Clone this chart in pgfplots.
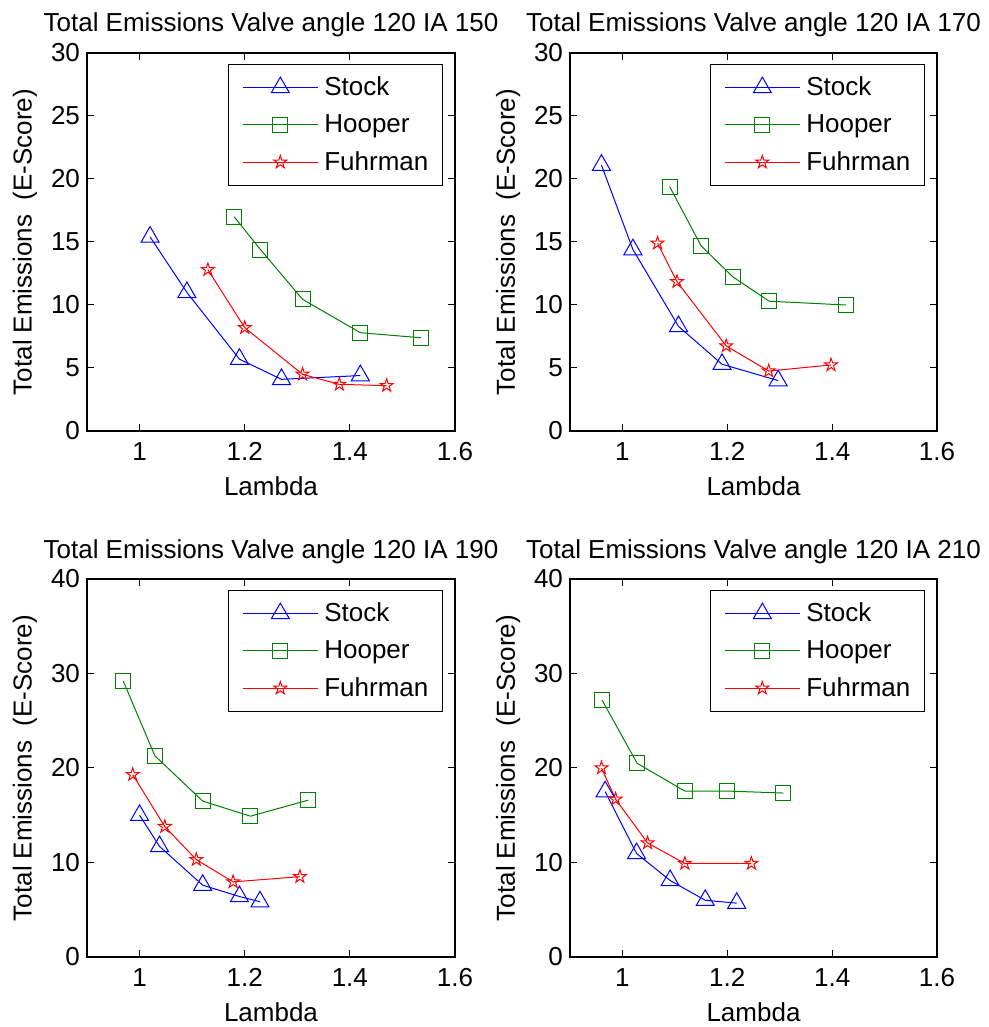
\documentclass[border=0pt]{standalone}
\usepackage{fontspec}
\setmainfont{Liberation Sans}
\usepackage{pgfplots}
\pgfplotsset{compat=1.18}
\usetikzlibrary{plotmarks}

% MATLAB-style pentagram outline
\pgfdeclareplotmark{pentagram}{%
  \pgfpathmoveto{\pgfpointpolar{90}{\pgfplotmarksize}}%
  \pgfpathlineto{\pgfpointpolar{126}{0.382\pgfplotmarksize}}%
  \pgfpathlineto{\pgfpointpolar{162}{\pgfplotmarksize}}%
  \pgfpathlineto{\pgfpointpolar{198}{0.382\pgfplotmarksize}}%
  \pgfpathlineto{\pgfpointpolar{234}{\pgfplotmarksize}}%
  \pgfpathlineto{\pgfpointpolar{270}{0.382\pgfplotmarksize}}%
  \pgfpathlineto{\pgfpointpolar{306}{\pgfplotmarksize}}%
  \pgfpathlineto{\pgfpointpolar{342}{0.382\pgfplotmarksize}}%
  \pgfpathlineto{\pgfpointpolar{18}{\pgfplotmarksize}}%
  \pgfpathlineto{\pgfpointpolar{54}{0.382\pgfplotmarksize}}%
  \pgfpathclose
  \pgfusepathqstroke
}

\definecolor{mblue}{RGB}{0,0,255}
\definecolor{mgreen}{RGB}{0,128,0}
\definecolor{mred}{RGB}{255,0,0}

\pgfplotsset{
  emis/.style={
    scale only axis, anchor=south west,
    width=184pt, height=189pt,
    xmin=0.9, xmax=1.6, xtick={1,1.2,1.4,1.6},
    tick align=inside, tick pos=both, major tick length=3.5pt,
    tick style={black, line width=0.5pt},
    axis line style={line width=0.6pt},
    font=\fontsize{13}{15.6}\selectfont,
    /pgf/number format/assume math mode=true,
    xlabel={Lambda},
    ylabel={Total Emissions\ \ (E-Score)},
    title style={at={(axis description cs:0.5,1)}, anchor=base, yshift=4.5pt},
    xlabel style={at={(axis description cs:0.5,0)}, anchor=base, yshift=-32.5pt},
    ylabel style={at={(axis description cs:-0.1685,0.5)}, anchor=center},
    xticklabel style={yshift=-2.3pt},
    legend style={at={(axis description cs:1,1)}, anchor=north east,
      xshift=-6pt, yshift=-5.5pt, draw=black, line width=0.6pt,
      inner xsep=7pt, inner ysep=6pt, row sep=8pt, column sep=3pt,
      nodes={inner sep=0pt}, cells={anchor=west},
      font=\fontsize{13}{15.6}\selectfont},
    legend image code/.code={%
      \draw[mark repeat=2,mark phase=2]
        plot coordinates {(0pt,0pt) (18.75pt,0pt) (37.5pt,0pt)};},
  },
  stock/.style={mblue, line width=0.5pt, mark=triangle, mark size=5.2pt,
    mark options={solid}},
  hooper/.style={mgreen, line width=0.5pt, mark=square, mark size=3.75pt,
    mark options={solid}},
  fuhr/.style={mred, line width=0.5pt, mark=pentagram, mark size=3.4pt,
    mark options={solid}},
}

\begin{document}
\begin{tikzpicture}
\useasboundingbox (0,0) rectangle (494.5pt,513.5pt);

% IA 150
\begin{axis}[emis, at={(43.5pt,298pt)},
  ymin=0, ymax=30, ytick={0,5,...,30},
  title={Total Emissions Valve angle 120 IA 150}]
\addplot[stock] coordinates {(1.02,15.4) (1.09,11.0) (1.19,5.7) (1.27,4.1) (1.42,4.4)};
\addplot[hooper] coordinates {(1.18,17.0) (1.23,14.4) (1.31,10.45) (1.42,7.8) (1.535,7.4)};
\addplot[fuhr] coordinates {(1.13,12.8) (1.20,8.2) (1.31,4.5) (1.38,3.7) (1.47,3.6)};
\legend{Stock,Hooper,Fuhrman}
\end{axis}

% IA 170
\begin{axis}[emis, at={(285pt,298pt)}, width=183.5pt,
  ymin=0, ymax=30, ytick={0,5,...,30},
  title={Total Emissions Valve angle 120 IA 170}]
\addplot[stock] coordinates {(0.96,21.1) (1.02,14.4) (1.107,8.3) (1.19,5.3) (1.297,4.0)};
\addplot[hooper] coordinates {(1.09,19.4) (1.15,14.7) (1.21,12.25) (1.28,10.3) (1.426,10.0)};
\addplot[fuhr] coordinates {(1.067,14.9) (1.104,11.85) (1.198,6.75) (1.279,4.76) (1.398,5.24)};
\legend{Stock,Hooper,Fuhrman}
\end{axis}

% IA 190
\begin{axis}[emis, at={(43.5pt,35pt)},
  ymin=0, ymax=40, ytick={0,10,...,40},
  title={Total Emissions Valve angle 120 IA 190}]
\addplot[stock] coordinates {(1.0,15.0) (1.038,11.7) (1.12,7.6) (1.19,6.4) (1.229,5.85)};
\addplot[hooper] coordinates {(0.969,29.2) (1.029,21.3) (1.12,16.5) (1.211,14.9) (1.321,16.6)};
\addplot[fuhr] coordinates {(0.987,19.3) (1.048,13.8) (1.108,10.3) (1.178,7.95) (1.305,8.5)};
\legend{Stock,Hooper,Fuhrman}
\end{axis}

% IA 210
\begin{axis}[emis, at={(285pt,35pt)}, width=183.5pt,
  ymin=0, ymax=40, ytick={0,10,...,40},
  title={Total Emissions Valve angle 120 IA 210}]
\addplot[stock] coordinates {(0.967,17.5) (1.027,10.95) (1.091,8.1) (1.158,6.0) (1.218,5.7)};
\addplot[hooper] coordinates {(0.961,27.2) (1.028,20.5) (1.119,17.56) (1.2,17.56) (1.307,17.35)};
\addplot[fuhr] coordinates {(0.96,20.0) (0.987,16.7) (1.048,12.07) (1.119,9.9) (1.246,9.9)};
\legend{Stock,Hooper,Fuhrman}
\end{axis}
\end{tikzpicture}
\end{document}
